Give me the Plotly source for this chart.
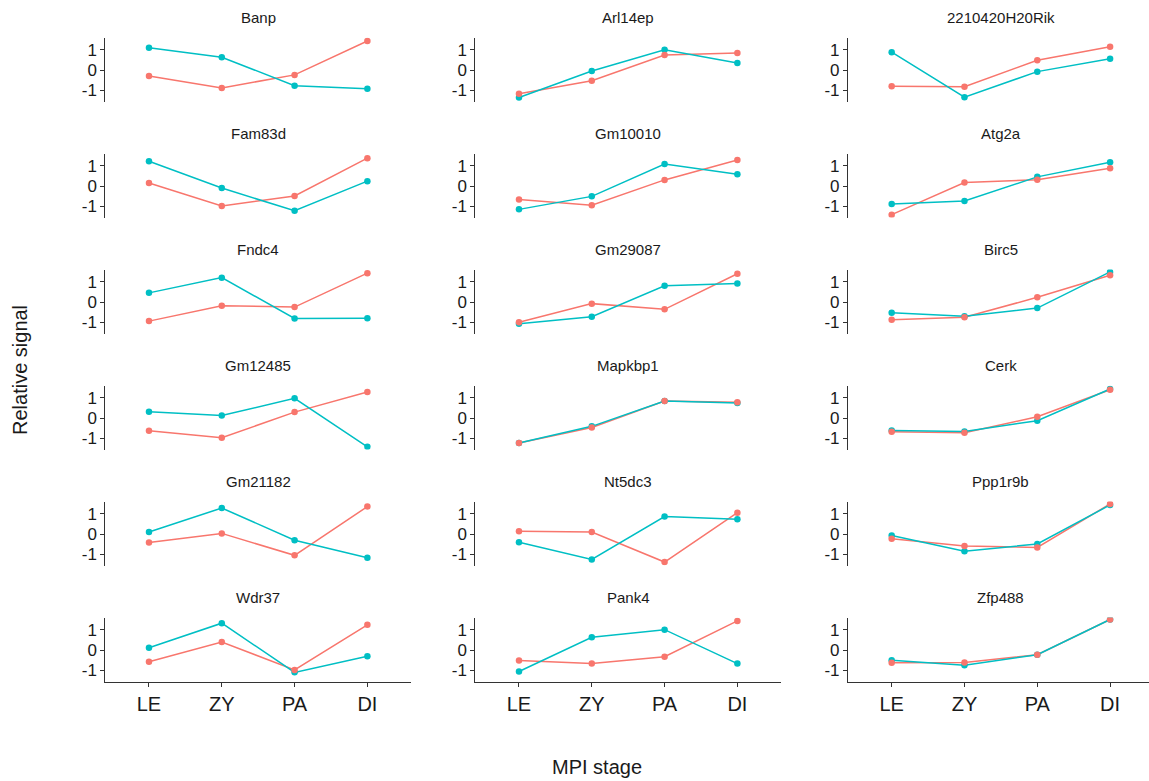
import plotly.graph_objects as go

stages = ["LE", "ZY", "PA", "DI"]
genes = ["Banp", "Arl14ep", "2210420H20Rik",
         "Fam83d", "Gm10010", "Atg2a",
         "Fndc4", "Gm29087", "Birc5",
         "Gm12485", "Mapkbp1", "Cerk",
         "Gm21182", "Nt5dc3", "Ppp1r9b",
         "Wdr37", "Pank4", "Zfp488"]
red_vals = [
    [-0.29, -0.88, -0.24, 1.43],
    [-1.17, -0.53, 0.74, 0.84],
    [-0.80, -0.82, 0.48, 1.14],
    [0.15, -0.98, -0.49, 1.37],
    [-0.66, -0.95, 0.30, 1.28],
    [-1.41, 0.17, 0.31, 0.87],
    [-0.94, -0.18, -0.25, 1.42],
    [-1.00, -0.08, -0.36, 1.39],
    [-0.87, -0.75, 0.23, 1.32],
    [-0.63, -0.97, 0.29, 1.28],
    [-1.23, -0.47, 0.84, 0.77],
    [-0.68, -0.72, 0.06, 1.39],
    [-0.42, 0.03, -1.05, 1.35],
    [0.13, 0.10, -1.38, 1.05],
    [-0.23, -0.59, -0.66, 1.48],
    [-0.58, 0.39, -0.98, 1.24],
    [-0.52, -0.67, -0.33, 1.43],
    [-0.63, -0.62, -0.23, 1.50],
]
teal_vals = [
    [1.10, 0.63, -0.77, -0.92],
    [-1.35, -0.05, 1.00, 0.35],
    [0.88, -1.34, -0.08, 0.55],
    [1.22, -0.10, -1.22, 0.24],
    [-1.15, -0.51, 1.08, 0.58],
    [-0.89, -0.74, 0.45, 1.17],
    [0.45, 1.20, -0.81, -0.80],
    [-1.07, -0.72, 0.80, 0.91],
    [-0.53, -0.70, -0.30, 1.48],
    [0.31, 0.12, 0.97, -1.42],
    [-1.23, -0.41, 0.84, 0.74],
    [-0.61, -0.66, -0.13, 1.43],
    [0.10, 1.28, -0.31, -1.17],
    [-0.41, -1.25, 0.86, 0.73],
    [-0.07, -0.85, -0.49, 1.43],
    [0.11, 1.32, -1.10, -0.31],
    [-1.06, 0.63, 1.00, -0.67],
    [-0.50, -0.75, -0.23, 1.50],
]

RED = "#F8766D"
TEAL = "#00BFC4"
W, H = 1149, 781
col_left = [105.3, 475.3, 848.0]
px_per_stage = 72.8
row_top0, row_step, panel_h = 37.5, 116.0, 64.0

fig = go.Figure()
layout = dict(width=W, height=H, margin=dict(l=0, r=0, t=0, b=0),
              paper_bgcolor="white", plot_bgcolor="white", showlegend=False,
              font=dict(family="Liberation Sans, Arial, sans-serif", color="#1a1a1a"))
annotations = []
for i, g in enumerate(genes):
    r, c = divmod(i, 3)
    k = i + 1
    xa = "x" if k == 1 else f"x{k}"
    ya = "y" if k == 1 else f"y{k}"
    x0 = col_left[c]
    x1 = min(x0 + 4.2 * px_per_stage, W)
    xr_end = 0.4 + (x1 - x0) / px_per_stage
    top = row_top0 + r * row_step
    bot = top + panel_h
    xkey = "xaxis" if k == 1 else f"xaxis{k}"
    ykey = "yaxis" if k == 1 else f"yaxis{k}"
    bottom = (r == 5)
    layout[xkey] = dict(domain=[x0 / W, x1 / W], anchor=ya, range=[0.4, xr_end],
                        tickvals=[1, 2, 3, 4], ticktext=stages,
                        showticklabels=bottom, showline=bottom, ticks="outside" if bottom else "",
                        ticklen=4, tickwidth=1.1, tickcolor="#333333",
                        linecolor="#333333", linewidth=1.1,
                        showgrid=False, zeroline=False,
                        tickfont=dict(size=20, color="#1a1a1a"))
    layout[ykey] = dict(domain=[1 - bot / H, 1 - top / H], anchor=xa, range=[-1.55, 1.6],
                        tickvals=[-1, 0, 1], ticktext=["-1", "0", "1"],
                        showline=True, linecolor="#333333", linewidth=1.1,
                        ticks="outside", ticklen=4, tickwidth=1.1, tickcolor="#333333",
                        showgrid=False, zeroline=False,
                        tickfont=dict(size=17, color="#1a1a1a"))
    xs = [1, 2, 3, 4]
    fig.add_trace(go.Scatter(x=xs, y=red_vals[i], mode="lines", line=dict(color=RED, width=1.5),
                             xaxis=xa, yaxis=ya, hoverinfo="skip"))
    fig.add_trace(go.Scatter(x=xs, y=teal_vals[i], mode="lines", line=dict(color=TEAL, width=1.5),
                             xaxis=xa, yaxis=ya, hoverinfo="skip"))
    fig.add_trace(go.Scatter(x=xs, y=teal_vals[i], mode="markers", marker=dict(color=TEAL, size=6.5),
                             xaxis=xa, yaxis=ya))
    fig.add_trace(go.Scatter(x=xs, y=red_vals[i], mode="markers", marker=dict(color=RED, size=6.5),
                             xaxis=xa, yaxis=ya))
    annotations.append(dict(text=g, x=(x0 + x0 + 4.2 * px_per_stage) / 2 / W, y=1 - (top - 20) / H,
                            xref="paper", yref="paper", showarrow=False,
                            xanchor="center", yanchor="middle",
                            font=dict(size=15, color="#1a1a1a")))

annotations.append(dict(text="MPI stage", x=597 / W, y=1 - 767 / H, xref="paper", yref="paper",
                        showarrow=False, xanchor="center", yanchor="middle",
                        font=dict(size=20, color="#1a1a1a")))
annotations.append(dict(text="Relative signal", x=20 / W, y=1 - 370 / H, xref="paper", yref="paper",
                        showarrow=False, xanchor="center", yanchor="middle", textangle=-90,
                        font=dict(size=20, color="#1a1a1a")))
layout["annotations"] = annotations
fig.update_layout(**layout)
fig.write_html("out.html")
